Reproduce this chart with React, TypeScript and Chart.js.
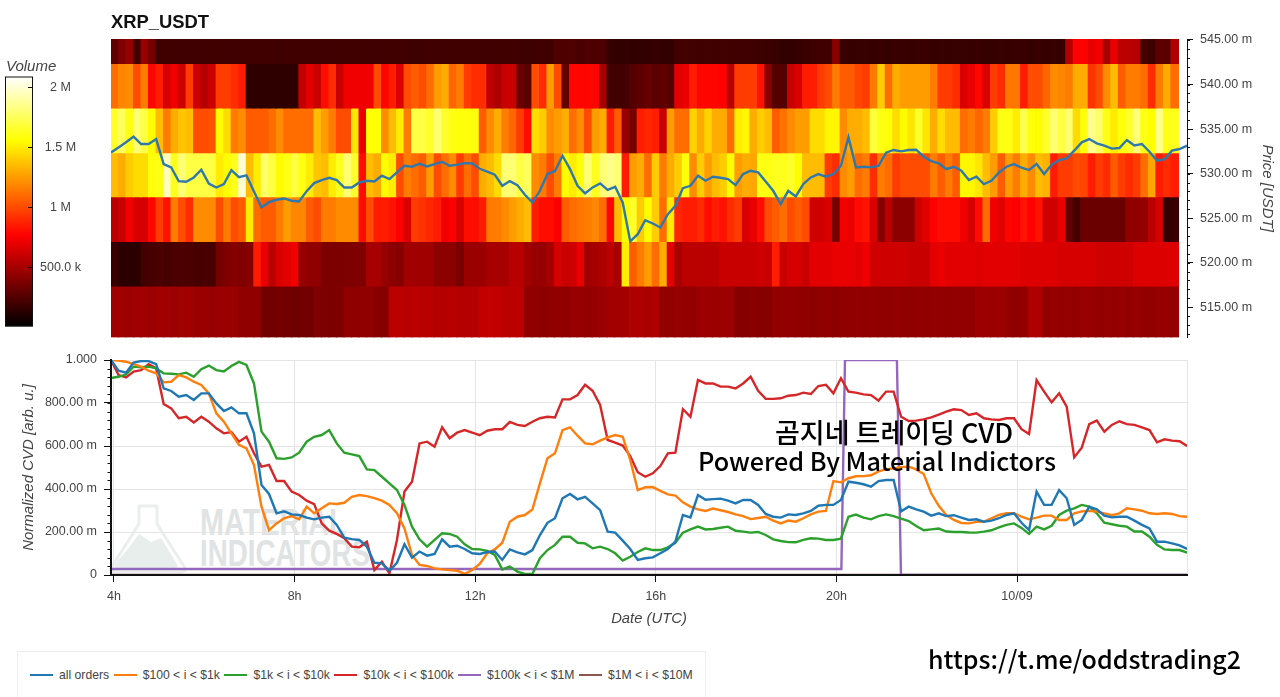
import React, { useEffect, useRef } from "react";
import { Chart, registerables } from "chart.js";

Chart.register(...registerables);

// ---------- data ----------
const chartTitle = "XRP_USDT";
const hourStart = 3.9336;
const hourEnd = 27.765;

const volumeMax = 2090;
const volumeMin = 6;
const volumeTicks = [500, 1000, 1500, 2000];
const volumeTickLabels = ["500.0 k", "1 M", "1.5 M", "2 M"];

const priceMin = 511.6;
const priceMax = 545.11;
const priceTicks = [515, 520, 525, 530, 535, 540, 545];
const cvdTicks = [0, 200, 400, 600, 800, 1000];
const cvdTickLabels = ["0", "200.00 m", "400.00 m", "600.00 m", "800.00 m", "1.000"];
const hourTicks = [4, 8, 12, 16, 20, 24];
const hourTickLabels = ["4h", "8h", "12h", "16h", "20h", "10/09"];

const bandEdges = [545.11, 542.33, 537.35, 532.32, 527.37, 522.36, 517.36, 511.6];

const band545 = [
  280,380,450,200,450,350,190,190,190,190,
  185,185,190,195,190,190,185,190,195,190,
  190,190,185,190,195,190,190,190,185,190,
  190,195,190,190,185,190,190,195,190,190,
  185,190,190,185,190,190,195,190,190,185,
  190,195,190,190,190,185,190,190,195,235,
  230,235,225,235,230,230,160,150,150,145,
  150,150,155,150,150,200,205,200,195,200,
  195,200,190,185,190,185,180,175,170,150,
  150,155,170,180,190,185,420,170,165,170,
  170,165,170,165,170,170,165,170,170,165,
  170,165,170,170,165,170,160,165,170,165,
  170,170,165,170,165,170,165,540,760,770,
  690,720,500,700,560,560,540,210,180,280,
  270,520,
];
const band540 = [
  1100,1180,1200,1000,1150,780,850,640,720,610,
  950,610,540,610,950,950,900,850,140,140,
  140,140,140,140,140,580,680,600,800,900,
  600,720,720,720,720,1000,780,850,660,1000,
  1050,1000,1100,1250,1300,1080,1150,950,900,900,
  570,520,600,600,320,270,1000,900,1250,1000,
  300,780,780,780,780,500,200,200,200,250,
  280,300,270,290,260,680,700,850,780,780,
  780,760,550,950,950,950,820,400,250,250,
  600,650,850,850,950,1000,1150,1050,1050,980,
  950,1150,1400,1100,1300,1250,1250,1250,1250,1150,
  950,950,900,650,700,780,650,950,900,1130,
  1130,850,1000,1000,1080,1200,1180,1150,1300,1300,
  920,1000,1200,1350,1050,1150,1150,1100,900,1150,
  1300,1100,
];
const band535 = [
  1650,1750,1600,1800,1700,1550,1350,1150,1300,1380,
  1350,1000,1000,1020,1550,1450,1150,1200,1050,1050,
  1050,1100,1200,1100,1100,1100,1100,1350,1250,1150,
  1000,1000,1480,700,1570,1570,1200,1350,1500,1150,
  1700,1700,1650,1800,1650,1600,1580,1580,1580,1050,
  1200,1300,1150,1080,950,800,1450,1400,1200,1250,
  1300,1100,1200,1000,1250,1300,850,1050,450,350,
  850,880,860,600,1250,1100,1100,1420,1300,1420,
  1300,1300,1100,1500,1530,1300,1400,1350,1050,1120,
  1200,1250,1250,1450,1450,1530,1530,1200,1300,1300,
  1350,1680,1600,1570,1450,1550,1480,1650,1480,1300,
  1450,1350,1350,1100,1150,1080,1150,1400,1600,1600,
  1500,1720,1580,1550,1650,1800,1700,1800,1450,1580,
  1850,1780,1600,1500,1580,1650,1820,1600,1560,1850,
  1600,1620,
];
const band530 = [
  1350,1300,1400,1450,1450,1580,1600,1950,1620,1800,
  1700,1700,1700,1700,1500,1550,1620,2000,1350,1500,
  1780,1700,1550,1600,1700,1600,1500,1380,1350,1500,
  1620,1800,1650,800,1350,1300,1550,1500,1000,1150,
  1100,1050,1250,1000,1100,1200,950,1100,1000,1300,
  1350,1450,1800,1800,1700,1750,1200,1150,1000,1150,
  1550,1500,1580,1800,1620,1800,1850,1800,850,1250,
  1300,1100,1400,1150,1300,1400,1580,1200,1400,1250,
  1350,1400,1560,1250,1300,1280,1600,1600,1620,1620,
  1650,1550,1350,1350,1350,950,900,1200,1250,1100,
  1150,900,1150,1100,950,1000,1000,1000,1000,1150,
  1050,1150,1050,1530,1530,1480,1350,1250,1050,1250,
  1150,1300,1200,1350,1320,850,950,950,1000,980,
  850,950,900,1050,950,900,950,1100,1280,850,
  900,850,
];
const band525 = [
  560,600,720,640,640,780,950,820,1150,1000,
  900,1200,1200,1200,1000,1150,1000,1050,1500,1100,
  1050,1050,1150,1250,1180,1180,1050,1000,1150,1150,
  1200,1200,1200,800,1000,850,850,820,760,650,
  950,920,880,850,720,760,640,800,800,850,
  1150,1150,1200,1250,1300,1350,850,800,800,750,
  1050,1100,1130,1150,1180,1100,780,1350,1560,1650,
  1400,1550,1400,1100,1500,880,850,850,900,800,
  850,820,900,950,650,700,800,1000,1050,1100,
  1000,1050,1000,620,620,650,350,720,700,800,
  820,650,400,550,420,420,420,620,680,760,
  800,800,800,720,640,800,1100,720,680,780,
  760,820,760,820,620,620,700,300,200,320,
  320,320,320,320,320,430,430,450,560,640,
  150,170,
];
const band520 = [
  170,130,130,130,200,210,220,210,220,230,
  220,210,220,210,350,380,400,380,400,850,
  700,560,650,680,720,450,430,430,370,370,
  370,380,380,380,500,500,450,420,400,480,
  480,480,480,420,420,420,360,460,460,460,
  500,500,500,550,550,480,450,450,500,640,
  600,620,700,480,500,520,560,500,1500,1050,
  1150,1250,1100,1300,680,500,560,560,560,560,
  560,600,600,600,600,600,620,600,850,600,
  640,640,600,680,680,680,700,700,700,680,
  720,620,620,620,620,620,600,600,600,680,
  700,680,680,680,680,660,680,680,680,680,
  680,660,660,660,660,660,640,640,640,640,
  640,620,620,620,620,620,660,660,660,660,
  660,660,
];
const band515 = [
  480,480,470,480,480,470,480,480,470,480,
  480,460,460,450,460,460,460,430,430,430,
  340,340,350,340,330,340,340,380,380,370,
  380,430,420,430,430,400,400,560,560,550,
  560,550,560,540,540,550,540,540,540,580,
  590,580,560,560,570,430,430,420,430,430,
  430,450,450,440,450,460,480,480,490,520,
  520,510,520,440,440,450,440,440,470,470,
  460,470,470,400,400,410,400,400,440,440,
  440,430,430,420,430,430,420,430,430,440,
  430,440,430,430,440,430,430,440,430,440,
  440,430,440,440,430,470,470,460,470,440,
  430,440,520,520,440,450,440,450,440,460,
  450,440,450,440,450,440,450,440,440,450,
  450,440,
];
const heatBands = [band545, band540, band535, band530, band525, band520, band515];

const priceLine = [
  532.38,532.94,533.51,534.15,533.32,533.32,533.88,531.07,530.69,529.16,
  529.08,529.57,530.43,528.89,528.44,528.82,530.39,529.61,529.80,527.99,
  526.19,526.79,527.06,527.21,526.95,526.87,528.03,528.93,529.27,529.53,
  529.27,528.44,528.44,529.01,529.19,529.12,529.76,529.38,530.13,530.88,
  530.77,531.11,530.81,
  531.07,531.33,530.88,531.00,531.18,531.15,530.54,530.21,529.87,528.63,
  529.16,528.71,527.62,526.76,528.07,529.95,530.28,532.00,530.51,528.63,
  527.77,528.45,528.90,528.18,528.52,526.76,522.40,523.20,524.77,524.40,
  523.95,525.45,526.38,528.37,528.63,529.76,529.20,529.65,529.53,529.38,
  528.71,529.95,530.32,530.13,529.12,528.07,526.57,528.07,527.43,528.82,
  529.57,529.95,529.65,529.95,530.88,534.07,530.70,
  530.77,530.70,530.88,532.35,532.65,532.50,532.65,532.68,531.90,531.41,
  531.15,530.51,530.77,530.32,529.27,529.65,528.82,529.20,530.13,530.77,
  531.07,530.66,530.40,531.07,529.95,531.00,531.52,531.71,532.57,533.51,
  533.88,533.40,533.13,532.80,532.87,533.77,533.17,533.32,532.46,531.45,
  531.63,532.57,532.76,533.13,
];

const cvdAll = [
  1000,950,941,988,995,995,981,868,856,829,
  837,814,845,845,798,763,780,752,752,659,
  419,377,287,296,282,279,267,259,267,271,
  233,174,167,163,132,57,54,20,57,143,
  81,109,90,
  98,166,132,136,121,101,98,107,109,70,
  119,105,96,116,186,243,264,357,377,352,
  364,333,302,202,197,160,121,70,78,82,
  101,121,155,279,268,372,350,353,355,346,
  333,349,349,326,284,271,267,282,279,287,
  298,322,326,326,349,434,429,
  422,411,437,442,442,296,318,305,295,276,
  287,274,278,267,256,259,248,253,264,279,
  287,243,209,388,326,326,395,357,233,256,
  318,305,276,268,271,271,253,233,217,155,
  155,147,138,121,
];
const cvd100to1k = [
  1000,997,992,981,969,950,938,896,899,930,
  919,899,884,845,752,713,659,605,589,512,
  318,209,240,264,274,259,318,287,310,333,
  330,336,364,372,367,358,346,326,287,217,
  93,47,42,
  31,26,23,20,5,23,51,101,119,150,
  248,271,279,305,426,543,566,674,687,648,
  612,608,625,640,651,643,535,395,408,409,
  391,375,369,338,318,305,298,309,301,293,
  282,274,260,265,271,253,240,253,248,264,
  282,295,298,437,431,450,459,
  460,464,482,491,496,501,504,491,470,380,
  322,279,256,242,240,247,248,264,279,287,
  287,271,259,267,276,276,256,256,287,296,
  299,295,287,278,287,310,305,299,287,284,
  287,284,274,271,
];
const cvd1kto10k = [
  916,922,933,969,966,969,961,938,936,933,
  941,922,957,974,953,947,972,991,977,891,
  667,620,543,540,547,569,620,643,651,674,
  612,569,561,553,491,488,457,426,395,326,
  225,166,132,
  163,194,191,178,143,121,119,112,93,26,
  39,16,5,5,78,116,140,178,178,150,
  147,124,132,121,101,67,85,107,124,116,
  116,129,150,197,212,225,212,214,220,225,
  206,202,197,200,186,166,158,153,152,163,
  171,169,163,163,169,271,281,
  267,259,274,282,274,262,251,228,208,212,
  216,202,200,200,198,197,202,208,222,233,
  240,219,191,225,212,229,279,299,310,326,
  318,287,243,236,229,225,202,202,178,140,
  119,116,116,104,
];
const cvd10kto100k = [
  1000,930,919,946,953,981,961,795,775,729,
  736,709,736,713,682,659,665,620,643,566,
  504,512,437,437,388,372,346,330,240,206,
  191,171,132,129,155,23,62,8,163,388,
  434,612,620,
  597,687,636,662,674,662,650,671,678,678,
  712,698,693,713,729,736,733,817,817,837,
  885,857,791,628,616,602,553,478,457,473,
  507,566,569,771,736,907,891,891,876,876,
  868,891,922,857,819,819,822,834,837,848,
  842,879,885,845,915,853,848,
  840,837,811,853,853,736,716,718,724,733,
  746,760,771,767,744,752,729,724,721,729,
  729,678,656,907,853,803,845,783,547,592,
  702,718,667,698,715,702,698,687,674,617,
  631,625,622,600,
];
const stepHours = [3.9336, 20.11, 20.19, 21.34, 21.43, 27.765];
const cvd100kto1M = [28, 28, 1000, 1000, 0, 0];
const flatHours = [3.9336, 27.765];
const cvd1Mto10M = [0, 0];

const seriesLabels = ["all orders", "$100 < i < $1k", "$1k < i < $10k", "$10k < i < $100k", "$100k < i < $1M", "$1M < i < $10M"];
const seriesColors = ["#1f77b4", "#ff7f0e", "#2ca02c", "#d62728", "#9467bd", "#8c564b"];

// ---------- helpers ----------
const FONT = "'Liberation Sans', Arial, sans-serif";
const TEXT = "#444444";
const TICK_SIZE = 12.5;

function hot(v: number) {
  const t = Math.min(1, Math.max(0, v / volumeMax));
  const r = Math.min(1, t / 0.365);
  const g = t < 0.365 ? 0 : Math.min(1, (t - 0.365) / 0.381);
  const b = t < 0.746 ? 0 : (t - 0.746) / 0.254;
  return `rgb(${Math.round(r * 255)},${Math.round(g * 255)},${Math.round(b * 255)})`;
}

const pointHour = (i: number) => hourStart + i / 6;
const columnHour = (k: number) => hourStart + (k + 0.5) * 0.1665;
const onGrid = (vals: number[]) => vals.map((y, i) => ({ x: pointHour(i), y }));
const onHours = (hours: number[], vals: number[]) => vals.map((y, i) => ({ x: hours[i], y }));
const seriesData = [
  onGrid(cvdAll),
  onGrid(cvd100to1k),
  onGrid(cvd1kto10k),
  onGrid(cvd10kto100k),
  onHours(stepHours, cvd100kto1M),
  onHours(flatHours, cvd1Mto10M),
];

function minorTicks(axis: string, from: number, to: number, step: number, len: number, dir: number, id: string) {
  return {
    id,
    afterDatasetsDraw(chart: any) {
      const s = chart.scales[axis];
      const a = chart.chartArea;
      const c = chart.ctx;
      const x0 = dir > 0 ? a.right : a.left;
      c.save();
      c.strokeStyle = "#111";
      c.lineWidth = 1;
      c.beginPath();
      for (let v = from; v <= to + 1e-9; v += step) {
        const y = Math.round(s.getPixelForValue(v)) + 0.5;
        if (y < a.top - 1 || y > a.bottom + 1) continue;
        c.moveTo(x0, y);
        c.lineTo(x0 + dir * len, y);
      }
      c.stroke();
      c.restore();
    },
  };
}

function Heatmap() {
  const ref = useRef<HTMLCanvasElement>(null);
  useEffect(() => {
    const datasets: any[] = heatBands.map((vals, b) => ({
      type: "bar",
      label: `band ${b}`,
      order: 2,
      data: vals.map((v, k) => ({ x: columnHour(k), y: [bandEdges[b + 1], bandEdges[b]] })),
      backgroundColor: vals.map(hot),
      borderWidth: 0,
      barThickness: 8,
      grouped: false,
    }));
    datasets.push({
      type: "line",
      label: "price",
      order: 1,
      data: onGrid(priceLine),
      borderColor: "#2f78ad",
      borderWidth: 2.4,
      pointRadius: 0,
      tension: 0,
    });
    const chart = new Chart(ref.current!, {
      data: { datasets },
      plugins: [minorTicks("y", 512, 545, 1, 3, 1, "minorPrice")],
      options: {
        animation: false,
        responsive: false,
        layout: { padding: { left: 111, top: 39, bottom: 0, right: 0 } },
        plugins: { legend: { display: false }, tooltip: { enabled: false } },
        scales: {
          x: { type: "linear", min: hourStart, max: hourEnd, display: false, offset: false },
          y: {
            type: "linear",
            position: "right",
            min: priceMin,
            max: priceMax,
            afterBuildTicks: (s: any) => { s.ticks = priceTicks.map((value) => ({ value })); },
            afterFit: (s: any) => { s.width = 93; },
            border: { color: "#111", width: 1, z: 1 },
            grid: { drawOnChartArea: false, tickLength: 6, tickColor: "#111" },
            ticks: {
              color: TEXT,
              padding: 7,
              font: { family: FONT, size: TICK_SIZE },
              callback: (v: any) => `${Number(v).toFixed(2)} m`,
            },
            title: {
              display: true,
              text: "Price [USDT]",
              color: TEXT,
              padding: { top: 4, bottom: 0 },
              font: { family: FONT, size: 15, style: "italic", weight: "normal" },
            },
          },
        },
      } as any,
    });
    return () => chart.destroy();
  }, []);
  return <canvas ref={ref} width={1280} height={352} style={{ position: "absolute", left: 0, top: 0 }} />;
}

function ColorBar() {
  const ref = useRef<HTMLCanvasElement>(null);
  useEffect(() => {
    const frame = {
      id: "barFrame",
      afterDatasetsDraw(chart: any) {
        const a = chart.chartArea;
        const s = chart.scales.y;
        const c = chart.ctx;
        c.save();
        c.strokeStyle = "#111";
        c.lineWidth = 1;
        c.strokeRect(a.left + 0.5, a.top + 0.5, a.width - 1, a.height - 1);
        c.beginPath();
        volumeTicks.forEach((v) => {
          const y = Math.round(s.getPixelForValue(v)) + 0.5;
          c.moveTo(a.right - 5, y);
          c.lineTo(a.right, y);
        });
        c.stroke();
        c.restore();
      },
    };
    const chart = new Chart(ref.current!, {
      type: "bar",
      data: {
        labels: ["Volume"],
        datasets: [{
          data: [[volumeMin, volumeMax]],
          borderWidth: 0,
          barPercentage: 1,
          categoryPercentage: 1,
          backgroundColor: (ctx: any) => {
            const a = ctx.chart.chartArea;
            if (!a) return "#800";
            const g = ctx.chart.ctx.createLinearGradient(0, a.bottom, 0, a.top);
            g.addColorStop(0, "#000000");
            g.addColorStop(0.365, "#ff0000");
            g.addColorStop(0.746, "#ffff00");
            g.addColorStop(1, "#ffffff");
            return g;
          },
        }],
      },
      plugins: [frame],
      options: {
        animation: false,
        responsive: false,
        layout: { padding: { left: 5, top: 0, bottom: 0, right: 0 } },
        plugins: { legend: { display: false }, tooltip: { enabled: false } },
        scales: {
          x: { display: false },
          y: {
            position: "right",
            min: volumeMin,
            max: volumeMax,
            afterBuildTicks: (s: any) => { s.ticks = volumeTicks.map((value) => ({ value })); },
            afterFit: (s: any) => { s.width = 67; },
            border: { display: false },
            grid: { display: false, drawTicks: false },
            ticks: {
              color: TEXT,
              padding: 7,
              crossAlign: "center",
              font: { family: FONT, size: TICK_SIZE },
              callback: (v: any) => volumeTickLabels[volumeTicks.indexOf(v)],
            },
          },
        },
      } as any,
    });
    return () => chart.destroy();
  }, []);
  return <canvas ref={ref} width={100} height={279} style={{ position: "absolute", left: 0, top: 62 }} />;
}

function CvdChart() {
  const ref = useRef<HTMLCanvasElement>(null);
  useEffect(() => {
    const rightEdge = {
      id: "rightEdge",
      beforeDatasetsDraw(chart: any) {
        const a = chart.chartArea;
        const c = chart.ctx;
        c.save();
        c.strokeStyle = "#e5e5e5";
        c.lineWidth = 1;
        c.beginPath();
        c.moveTo(a.right + 0.5, a.top);
        c.lineTo(a.right + 0.5, a.bottom);
        c.stroke();
        c.restore();
      },
    };
    const chart = new Chart(ref.current!, {
      type: "line",
      data: {
        datasets: seriesLabels.map((label, s) => ({
          label,
          data: seriesData[s],
          borderColor: seriesColors[s],
          borderWidth: 2.4,
          pointRadius: 0,
          tension: 0,
        })),
      },
      plugins: [rightEdge, minorTicks("y", 0, 1000, 40, 3.5, -1, "minorCvd")],
      options: {
        animation: false,
        responsive: false,
        layout: { padding: { left: 0, top: 15, bottom: 0, right: 93 } },
        plugins: { legend: { display: false }, tooltip: { enabled: false } },
        scales: {
          x: {
            type: "linear",
            min: hourStart,
            max: hourEnd,
            afterBuildTicks: (s: any) => { s.ticks = hourTicks.map((value) => ({ value })); },
            afterFit: (s: any) => { s.height = 70; },
            border: { color: "#111", width: 2, z: 1 },
            grid: { color: "#e5e5e5", tickColor: "#111", tickLength: 7 },
            ticks: {
              color: TEXT,
              padding: 7,
              autoSkip: false,
              maxRotation: 0,
              font: { family: FONT, size: TICK_SIZE },
              callback: (v: any) => hourTickLabels[hourTicks.indexOf(v)],
            },
            title: {
              display: true,
              text: "Date (UTC)",
              color: TEXT,
              padding: { top: 0, bottom: 17 },
              font: { family: FONT, size: 14.8, style: "italic", weight: "normal" },
            },
          },
          y: {
            type: "linear",
            min: 0,
            max: 1000,
            afterBuildTicks: (s: any) => { s.ticks = cvdTicks.map((value) => ({ value })); },
            afterFit: (s: any) => { s.width = 111; },
            border: { color: "#111", width: 2, z: 1 },
            grid: { color: "#e5e5e5", tickColor: "#111", tickLength: 7 },
            ticks: {
              color: TEXT,
              padding: 7,
              font: { family: FONT, size: TICK_SIZE },
              callback: (v: any) => cvdTickLabels[cvdTicks.indexOf(v)],
            },
            title: {
              display: true,
              text: "Normalized CVD [arb. u.]",
              color: TEXT,
              padding: { top: 20, bottom: 0 },
              font: { family: FONT, size: 15, style: "italic", weight: "normal" },
            },
          },
        },
      } as any,
    });
    return () => chart.destroy();
  }, []);
  return <canvas ref={ref} width={1280} height={300} style={{ position: "absolute", left: 0, top: 345 }} />;
}

function Watermark() {
  const word = (text: string, top: number, sx: number) => (
    <div style={{
      position: "absolute", left: 200, top, fontFamily: FONT, fontWeight: 700, fontSize: 36, lineHeight: "36px",
      color: "#e0e3e3", transform: `scaleX(${sx})`, transformOrigin: "left top", whiteSpace: "nowrap",
    }}>{text}</div>
  );
  return (
    <>
      <svg width={90} height={75} style={{ position: "absolute", left: 105, top: 502 }}>
        <path d="M34 4 H52 V22 L80 66 Q82 70 76 70 H10 Q4 70 6 66 L34 22 Z" fill="none" stroke="#eceeee" strokeWidth={3} />
        <path d="M22 48 L34 32 L46 40 L56 36 L72 62 Q74 68 68 68 H14 Q8 68 10 62 Z" fill="#e8eeec" />
      </svg>
      {word("MATERIAL", 505, 0.8)}
      {word("INDICATORS", 536, 0.77)}
    </>
  );
}

function Legend() {
  return (
    <div style={{
      position: "absolute", left: 17, top: 651, width: 689, height: 46, boxSizing: "border-box",
      border: "1px solid #eeeeee", borderBottom: "none", display: "flex", alignItems: "center",
      paddingLeft: 12, fontFamily: FONT, fontSize: 12.2, color: TEXT, whiteSpace: "nowrap",
    }}>
      {seriesLabels.map((label, i) => (
        <span key={label} style={{ display: "inline-flex", alignItems: "center", marginRight: 4.5 }}>
          <span style={{ display: "inline-block", width: 23, height: 2, background: seriesColors[i], marginRight: 6 }} />
          {label}
        </span>
      ))}
    </div>
  );
}

export default function App() {
  const overlay = (text: string, left: number, top: number, size: number) => (
    <div style={{
      position: "absolute", left, top, fontFamily: "'Noto Sans CJK KR', 'Noto Sans', sans-serif",
      fontSize: size, fontWeight: 500, lineHeight: `${Math.round(size) + 4}px`, color: "#000", whiteSpace: "nowrap",
    }}>{text}</div>
  );
  return (
    <div style={{ position: "fixed", left: 0, top: 0, width: 1280, height: 697, background: "#fff", overflow: "hidden" }}>
      <Watermark />
      <Heatmap />
      <ColorBar />
      <CvdChart />
      <div style={{ position: "absolute", left: 111, top: 11, fontFamily: FONT, fontWeight: 700, fontSize: 18.4, lineHeight: "22px", color: "#111" }}>{chartTitle}</div>
      <div style={{ position: "absolute", left: 6, top: 58, fontFamily: FONT, fontStyle: "italic", fontSize: 15, lineHeight: "16px", color: TEXT }}>Volume</div>
      <Legend />
      {overlay("곰지네 트레이딩 CVD", 775, 416, 27)}
      {overlay("Powered By Material Indictors", 698, 446, 25.2)}
      {overlay("https://t.me/oddstrading2", 928, 644, 25)}
    </div>
  );
}
